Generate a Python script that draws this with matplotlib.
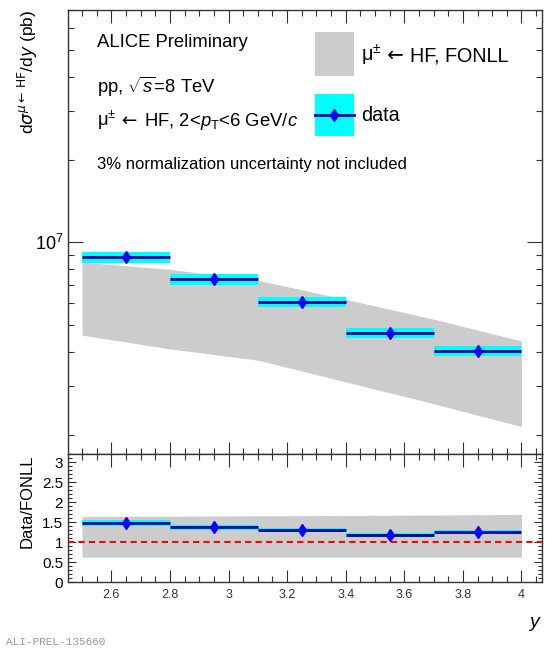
import numpy as np
import matplotlib
matplotlib.use('Agg')
import matplotlib.pyplot as plt
from matplotlib.patches import Rectangle
from matplotlib.transforms import offset_copy
from matplotlib.ticker import LogLocator, NullFormatter, MultipleLocator, FixedLocator, FormatStrFormatter

plt.rcParams['font.family'] = ['Liberation Sans', 'DejaVu Sans']
plt.rcParams['mathtext.fontset'] = 'custom'
plt.rcParams['mathtext.rm'] = 'Liberation Sans'
plt.rcParams['mathtext.it'] = 'Liberation Sans:italic'
plt.rcParams['mathtext.bf'] = 'Liberation Sans:bold'

#%% data
bin_lo = np.array([2.5, 2.8, 3.1, 3.4, 3.7])
bin_hi = np.array([2.8, 3.1, 3.4, 3.7, 4.0])
xsec = np.array([8.82e6, 7.35e6, 6.06e6, 4.67e6, 4.03e6])   # pb
sys_rel = np.array([0.045, 0.045, 0.043, 0.042, 0.040])
stat_rel = np.array([0.012, 0.012, 0.012, 0.012, 0.012])

# FONLL band, nodes at the bin edges
fonll_y = np.array([2.5, 2.8, 3.1, 3.4, 3.7, 4.0])
fonll_up = np.array([8.48e6, 7.98e6, 7.28e6, 6.21e6, 5.26e6, 4.38e6])
fonll_lo = np.array([4.60e6, 4.10e6, 3.73e6, 3.11e6, 2.59e6, 2.14e6])

# data/FONLL ratio
ratio = np.array([1.475, 1.37, 1.30, 1.175, 1.24])
ratio_up = np.array([1.64, 1.645, 1.655, 1.665, 1.675, 1.69])
ratio_lo = np.array([0.62, 0.62, 0.62, 0.62, 0.62, 0.62])

xc = 0.5*(bin_lo + bin_hi)
xw = bin_hi - bin_lo

cyan = '#00ffff'
navy = '#000099'
blue = '#0000ff'
grey = '#cccccc'

#%%
fig = plt.figure(figsize=(5.54, 6.5), dpi=100)
ax1 = fig.add_axes([0.1227, 0.3015, 0.8556, 0.6831])
ax2 = fig.add_axes([0.1227, 0.1046, 0.8556, 0.1969])
renderer = fig.canvas.get_renderer()

def chain_text(ax, x, y, pieces, size):
    # pieces: list of (string, family), drawn one after the other on the same baseline
    dx = 0.0
    for s, fam in pieces:
        trans = offset_copy(ax.transAxes, fig=fig, x=dx, y=0, units='dots')
        t = ax.text(x, y, s, transform=trans, fontsize=size, family=fam, va='baseline')
        dx += t.get_window_extent(renderer).width

# main panel
ax1.fill_between(fonll_y, fonll_lo, fonll_up, color=grey, lw=0, zorder=1)
ax1.bar(xc, 2*sys_rel*xsec, bottom=xsec*(1-sys_rel), width=xw, color=cyan, lw=0, zorder=2)
ax1.errorbar(xc, xsec, xerr=xw/2, yerr=stat_rel*xsec, fmt='d', color=blue, ms=6,
             ecolor=navy, elinewidth=2, capsize=0, zorder=3)
ax1.set_yscale('log')
ax1.set_xlim(2.452, 4.07)
ax1.set_ylim(1.7e6, 7e7)
ax1.yaxis.set_major_locator(LogLocator(base=10))
ax1.yaxis.set_minor_locator(LogLocator(base=10, subs=np.arange(2, 10)))
ax1.yaxis.set_minor_formatter(NullFormatter())
ax1.set_xticklabels([])
ax1.set_ylabel(r'd$\sigma^{\mu\leftarrow\,\mathrm{HF}}$/d$y$ (pb)', fontsize=12.5, loc='top',
               math_fontfamily='dejavusans')
ax1.yaxis.set_label_coords(-0.06, 1.0)

LIB = 'Liberation Sans'
DV = 'DejaVu Sans'
ax1.text(0.061, 0.917, 'ALICE Preliminary', transform=ax1.transAxes, fontsize=13.3, va='baseline')
ax1.text(0.061, 0.813, r'pp, $\sqrt{s}$=8 TeV', transform=ax1.transAxes, fontsize=13.3, va='baseline')
chain_text(ax1, 0.061, 0.739, [(r'μ$^{\pm}$', LIB), (' ← ', DV),
                               (r'HF, 2<$p_{\mathrm{T}}$<6 GeV/$c$', LIB)], 13.3)
ax1.text(0.061, 0.642, '3% normalization uncertainty not included', transform=ax1.transAxes,
         fontsize=12, va='baseline')

# legend drawn by hand, ROOT style
tr = ax1.transAxes
ax1.add_patch(Rectangle((0.521, 0.8514), 0.0823, 0.0991, transform=tr, color=grey, lw=0))
ax1.add_patch(Rectangle((0.521, 0.7162), 0.0823, 0.0946, transform=tr, color=cyan, lw=0))
ax1.plot([0.521, 0.6033], [0.7635, 0.7635], transform=tr, color=navy, lw=2)
ax1.plot([0.5622], [0.7635], transform=tr, marker='d', color=blue, ms=6)
chain_text(ax1, 0.618, 0.885, [(r'μ$^{\pm}$', LIB), (' ← ', DV), ('HF, FONLL', LIB)], 14.2)
ax1.text(0.618, 0.7635, 'data', transform=tr, fontsize=14.2, va='center')

# ratio panel
ax2.fill_between(fonll_y, ratio_lo, ratio_up, color=grey, lw=0, zorder=1)
ax2.axhline(1.0, color='red', lw=1.5, ls=(0, (3, 2)), zorder=2)
ax2.bar(xc, 2*sys_rel*ratio, bottom=ratio*(1-sys_rel), width=xw, color=cyan, lw=0, zorder=3)
ax2.errorbar(xc, ratio, xerr=xw/2, yerr=stat_rel*ratio*2, fmt='d', color=blue, ms=6,
             ecolor=navy, elinewidth=2, capsize=0, zorder=4)
ax2.set_xlim(2.452, 4.07)
ax2.set_ylim(0, 3.2)
ax2.yaxis.set_major_locator(FixedLocator([0, 0.5, 1, 1.5, 2, 2.5, 3]))
ax2.yaxis.set_major_formatter(FormatStrFormatter('%g'))
ax2.yaxis.set_minor_locator(MultipleLocator(0.1))
ax2.set_ylabel('Data/FONLL', fontsize=12, loc='top')
ax2.yaxis.set_label_coords(-0.07, 1.0)
ax2.set_xlabel('$y$', fontsize=14, loc='right', labelpad=10)

for ax in (ax1, ax2):
    ax.xaxis.set_major_locator(MultipleLocator(0.2))
    ax.xaxis.set_minor_locator(MultipleLocator(0.05))
    ax.tick_params(which='both', direction='in', top=True, right=True, width=0.8, color='#333333')
    ax.tick_params(which='major', length=9)
    ax.tick_params(which='minor', length=4.5)
    for s in ax.spines.values():
        s.set_linewidth(1.0)
        s.set_color('#333333')

ax2.xaxis.set_major_formatter(FormatStrFormatter('%g'))
ax1.tick_params(axis='y', which='major', labelsize=13, length=11)
ax2.tick_params(axis='y', labelsize=11)
ax2.tick_params(axis='x', labelsize=9, labelcolor='#333333', pad=5)
ax2.tick_params(axis='y', which='major', length=6)
ax2.tick_params(axis='y', which='minor', length=3)

fig.text(0.01, 0.008, 'ALI-PREL-135660', family='Liberation Mono', fontsize=8, color='#999999')

fig.savefig('out.png', dpi=100)
